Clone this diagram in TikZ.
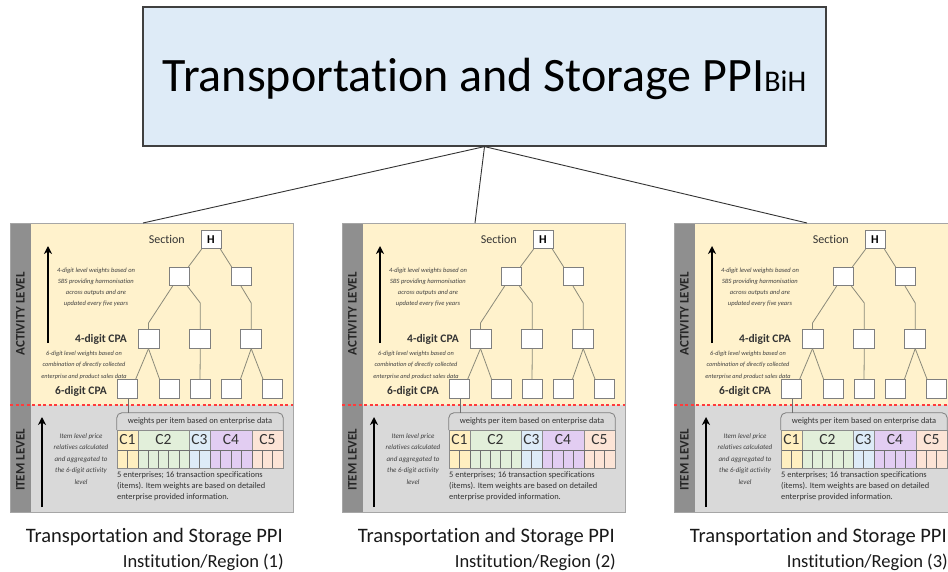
\documentclass[tikz,border=0pt]{standalone}
\usepackage{fontspec}
\setmainfont{Carlito}[Ligatures={NoCommon}]
\usetikzlibrary{arrows.meta}
\definecolor{titlefill}{HTML}{DEEBF7}
\definecolor{titleline}{HTML}{404040}
\definecolor{actfill}{HTML}{FFF2CC}
\definecolor{itemfill}{HTML}{D9D9D9}
\definecolor{stripfill}{HTML}{8F8F8F}
\definecolor{panelborder}{HTML}{A6A6A6}
\definecolor{treeline}{HTML}{8A8A7A}
\definecolor{boxborder}{HTML}{7F7F7F}
\definecolor{darktext}{HTML}{333333}
\definecolor{notegray}{HTML}{404040}
\definecolor{cellline}{HTML}{8C8C8C}
\definecolor{divline}{HTML}{6F6F6F}
\definecolor{reddash}{HTML}{FF3B3B}
\definecolor{cA}{HTML}{FFEFC0}
\definecolor{cB}{HTML}{E2EFDA}
\definecolor{cC}{HTML}{DDEBF7}
\definecolor{cD}{HTML}{E2CDF2}
\definecolor{cE}{HTML}{FCE4D6}
\tikzset{
  titlebox/.style={draw=titleline, fill=titlefill, line width=1.2pt, minimum width=683pt, minimum height=139pt, inner sep=0pt, text height=31pt, text depth=0pt},
  tbox/.style={draw=boxborder, fill=white, line width=0.8pt, minimum width=20pt, minimum height=18.5pt, inner sep=0pt},
  treeln/.style={draw=treeline, line width=0.8pt},
  notetxt/.style={font=\fontsize{6.5}{11}\selectfont\itshape, text=notegray, align=center, inner sep=0pt},
  lvltxt/.style={font=\bfseries\fontsize{11.5}{11.5}\selectfont, text=darktext, inner sep=0pt},
  secttxt/.style={font=\fontsize{12}{12}\selectfont, text=darktext, inner sep=0pt},
  sidelbl/.style={rotate=90, font=\bfseries\fontsize{13}{13}\selectfont, text=black!85, inner sep=0pt},
  uparrow/.style={-{Stealth[length=8pt,width=8pt,inset=2.5pt]}, line width=1.5pt, black},
  ccell/.style={minimum height=20pt, inner sep=0pt, font=\fontsize{15.5}{15.5}\selectfont, text=darktext, draw=cellline, line width=0.5pt},
  smalltxt/.style={font=\fontsize{8.4}{11}\selectfont, text=darktext, inner sep=0pt},
  connline/.style={draw=black!80, line width=0.9pt},
  captxt/.style={inner sep=0pt, text=black!90}
}
\begin{document}
\begin{tikzpicture}[x=1pt,y=-1pt]
\useasboundingbox (0,0) rectangle (948,572);
\clip (0,0) rectangle (948,572);
\fill[white] (0,0) rectangle (948,572);
\node[titlebox] (T) at (484.5,76.5) {\fontsize{48}{48}\selectfont Transportation and Storage PPI{\fontsize{30}{30}\selectfont BiH}};
\foreach \i/\ox in {1/0,2/332,3/664}{
\begin{scope}[xshift=\ox pt]
  % panel background
  \fill[actfill] (31,223) rectangle (293,405);
  \fill[itemfill] (31,405) rectangle (293,512);
  \fill[stripfill] (10,223) rectangle (31,512);
  \draw[panelborder, line width=0.8pt] (10,223) rectangle (293,512);
  \draw[reddash, line width=1.4pt, dash pattern=on 3pt off 2.5pt] (10,405) -- (293,405);
  \coordinate (top\i) at (143,223);
  % side labels
  \node[sidelbl] (al\i) at (20.5,314) {ACTIVITY LEVEL};
  \node[sidelbl] (il\i) at (20.5,460) {ITEM LEVEL};
  \coordinate (aa\i) at (48,343);
  \coordinate (ab\i) at (48,246);
  \coordinate (ia\i) at (42,507);
  \coordinate (ib\i) at (42,417);
  \draw[uparrow] (aa\i) -- (ab\i);
  \draw[uparrow] (ia\i) -- (ib\i);
  % notes
  \node[notetxt] (n1\i) at (96,287) {4-digit level weights based on\\SBS providing harmonisation\\across outputs and are\\updated every five years};
  \node[notetxt, font=\fontsize{6.3}{11.5}\selectfont\itshape] (n2\i) at (84,365) {6-digit level weights based on\\combination of directly collected\\enterprise and product sales data};
  \node[notetxt, font=\fontsize{7}{11.5}\selectfont\itshape] (n3\i) at (81,459) {Item level price\\relatives calculated\\and aggregated to\\the 6-digit activity\\level};
  % level labels
  \node[secttxt, anchor=east] (sec\i) at (185,239.5) {Section};
  \node[lvltxt, anchor=east] (l4\i) at (127,339) {4-digit CPA};
  \node[lvltxt, anchor=east] (l6\i) at (107,391) {6-digit CPA};
  % tree
  \node[tbox, font=\bfseries\fontsize{12}{12}\selectfont] (H\i) at (211,239.5) {H};
  \node[tbox] (La\i) at (179,276.5) {};
  \node[tbox] (Lb\i) at (241,276.5) {};
  \node[tbox, minimum width=21pt] (Ma\i) at (148.5,339) {};
  \node[tbox, minimum width=21pt] (Mb\i) at (200.3,339) {};
  \node[tbox, minimum width=21pt] (Mc\i) at (251.2,339) {};
  \node[tbox] (Sa\i) at (127.2,389) {};
  \node[tbox] (Sb\i) at (169,389) {};
  \node[tbox] (Sc\i) at (200,389) {};
  \node[tbox] (Sd\i) at (231,389) {};
  \node[tbox] (Se\i) at (272.5,389) {};
  \draw[treeln] ([xshift=1pt]H\i.south west) -- ([xshift=-1pt]La\i.north east);
  \draw[treeln] ([xshift=-1pt]H\i.south east) -- ([xshift=1pt]Lb\i.north west);
  \draw[treeln] ([xshift=4pt]La\i.south west) -- (148.5,323) -- (Ma\i.north);
  \draw[treeln] ([xshift=-2pt]La\i.south east) -- (200.3,303) -- (Mb\i.north);
  \draw[treeln] (Lb\i.south) -- (251.2,303) -- (Mc\i.north);
  \draw[treeln] (Ma\i.south) -- ([xshift=-2pt]Sa\i.north east);
  \draw[treeln] (Ma\i.south) -- ([xshift=1pt]Sb\i.north west);
  \draw[treeln] (Mb\i.south) -- (Sc\i.north);
  \draw[treeln] (Mc\i.south) -- ([xshift=-1pt]Sd\i.north east);
  \draw[treeln] (Mc\i.south) -- ([xshift=1pt]Se\i.north west);
  % bracket
  \node[smalltxt, minimum width=166pt, minimum height=17pt] (br\i) at (200,421.5) {weights per item based on enterprise data};
  \draw[boxborder, line width=0.8pt, rounded corners=5pt] (br\i.south west) -- (br\i.north west) -- (br\i.north east) -- (br\i.south east);
  \draw[treeln, draw=divline] ([xshift=1pt]Sa\i.south) -- ([xshift=1pt]Sa\i.south |- br\i.north);
  % C table header
  \node[ccell, fill=cA, minimum width=21pt] (Ca\i) at (127.5,440) {C1};
  \node[ccell, fill=cB, minimum width=51pt] (Cb\i) at (163.5,440) {C2};
  \node[ccell, fill=cC, minimum width=21pt] (Cc\i) at (199.5,440) {C3};
  \node[ccell, fill=cD, minimum width=42pt] (Cd\i) at (231,440) {C4};
  \node[ccell, fill=cE, minimum width=31pt] (Ce\i) at (267.5,440) {C5};
  % item row
  \fill[cA] (117,450) rectangle (138,468);
  \fill[cB] (138,450) rectangle (189,468);
  \fill[cC] (189,450) rectangle (210,468);
  \fill[cD] (210,450) rectangle (252,468);
  \fill[cE] (252,450) rectangle (283,468);
  \foreach \xx in {127.5,138,148.2,158.4,168.6,178.8,189,199.5,210,220.5,231,241.5,252,262.3,272.7}{
    \draw[divline, line width=0.6pt] (\xx,450) -- (\xx,468);
  }
  \draw[divline, line width=0.6pt] (117,450) -- (283,450);
  \draw[cellline, line width=0.6pt] (117,430) rectangle (283,468);
  % description
  \node[smalltxt, anchor=north west, align=left] (ds\i) at (117,472) {5 enterprises; 16 transaction specifications\\(items). Item weights are based on detailed\\enterprise provided information.};
  % captions
  \node[captxt, anchor=base east, font=\fontsize{20.5}{20.5}\selectfont] (ca\i) at (283,542) {Transportation and Storage PPI};
  \node[captxt, anchor=base east, font=\fontsize{18.5}{18.5}\selectfont] (cb\i) at (284,567) {Institution/Region (\i)};
\end{scope}
}
\draw[connline] (T.south) -- (top1);
\draw[connline] (T.south) -- (top2);
\draw[connline] (T.south) -- (top3);
\end{tikzpicture}
\end{document}
